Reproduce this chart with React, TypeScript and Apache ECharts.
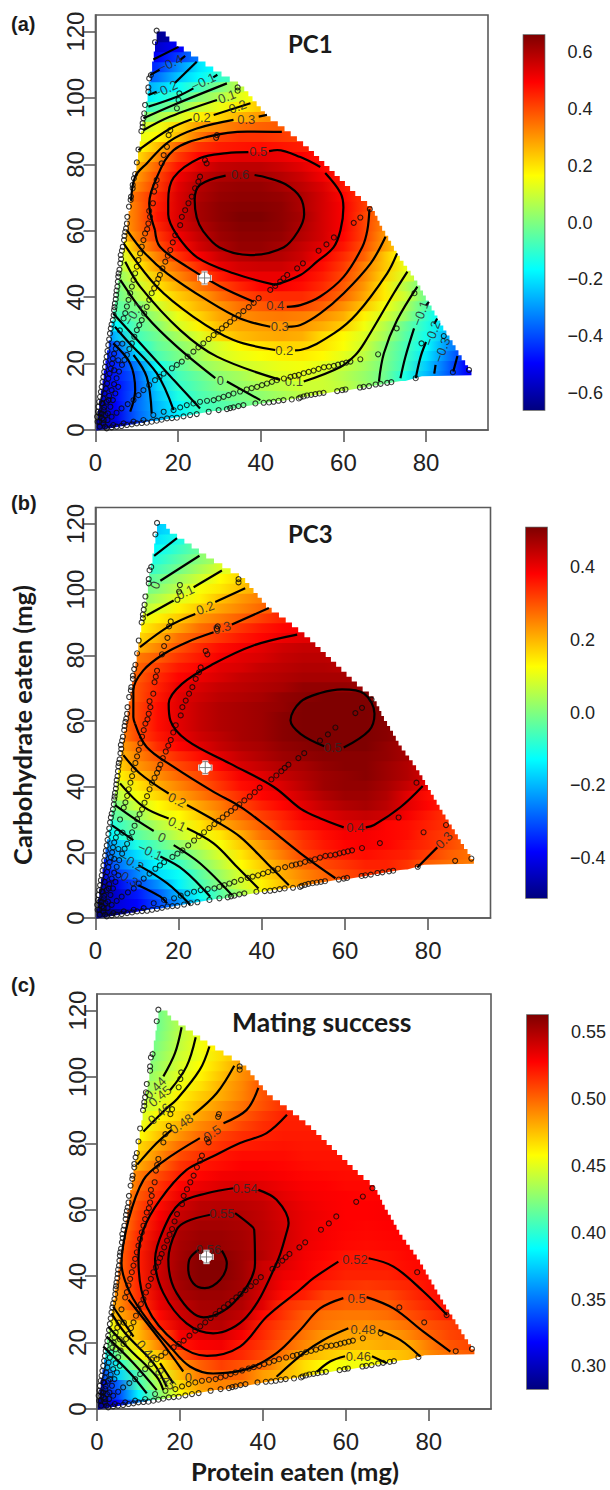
import React, { useEffect, useRef } from "react";
import * as echarts from "echarts";

const ROW_Y = [1.5,4.5,7.5,10.5,13.5,16.5,19.5,22.5,25.5,28.5,31.5,34.5,37.5,40.5,43.5,46.5,49.5,52.5,55.5,58.5,61.5,64.5,67.5,70.5,73.5,76.5,79.5,82.5,85.5,88.5,91.5,94.5,97.5,100.5,103.5,106.5,109.5,112.5,115.5,118.5];
const ROW_LO = [0.2,0.6,0.9,1.3,1.7,2,2.4,2.8,3.2,3.6,3.9,4.3,4.7,5.1,5.4,5.8,6.2,6.6,6.9,7.3,7.7,8,8.4,8.8,9.2,9.6,9.9,10.3,10.7,11,11.4,11.8,12.2,12.6,12.9,13.3,13.7,14.1,14.4,14.8];
const ROW_HI = [15,30,45,60,75,91,89.9,88.2,86.8,85.3,83.8,82.4,81,79.6,78.3,76.7,75,73.2,71.9,70.5,69,68,66.5,63.5,61,58.5,56,53.5,51,48,45,41.5,39.5,37.5,35.5,31.5,27.5,24,20.5,17];
const LOWER_EDGE = [[91,16.5],[79,16.2],[75,15],[60,12],[45,9],[30,6],[15,3],[0,0]];

const PC1_ROWS = [
[-62,-55,-44,-30],
[-65,-52,-37,-27,-18,-10,-5],
[-62,-50,-36,-26,-17,-9,-6,-3,0,2],
[-60,-48,-37,-24,-13,-7,-3,-1,2,5,8,10,10],
[-58,-48,-38,-22,-10,-5,0,3,6,8,10,10,8,4,-2,-7],
[-55,-46,-37,-20,-8,-3,2,5,9,12,13,10,7,3,-2,-13,-25,-37,-50,-55],
[-52,-45,-33,-15,-5,2,6,10,12,14,15,13,9,5,-1,-9,-23,-36,-50],
[-50,-42,-22,-7,-1,5,11,14,16,18,19,17,13,8,0,-8,-19,-33,-45],
[-50,-37,-14,-4,1,7,12,17,20,22,22,20,16,10,1,-7,-16,-30,-40],
[-45,-25,-8,-2,5,12,21,25,27,28,27,21,17,12,5,-5,-14,-26,-35],
[-30,-17,-5,1,11,18,25,28,29,30,30,27,23,15,7,-3,-12,-22],
[-15,-8,-3,5,14,22,28,31,33,34,33,31,27,18,11,3,-10,-20],
[-12,-5,0,10,20,26,30,35,38,40,40,37,31,24,15,6,-6,-14],
[-3,6,15,23,28,35,40,43,44,44,41,36,28,19,10,-2],
[-2,9,20,27,34,40,45,49,50,48,44,38,30,19,7,-3],
[1,12,24,32,39,46,51,52,52,50,46,40,32,22,12,5],
[4,18,29,36,44,52,55,56,56,53,48,42,33,24,14],
[7,22,33,43,50,56,59,60,59,56,50,44,37,24,14],
[12,28,39,48,55,60,63,63,61,57,53,47,39,29,20],
[20,33,42,51,57,62,64,64,63,59,55,49,41,30,20],
[25,35,45,54,59,63,65,65,64,60,55,50,41,32],
[26,35,47,54,61,64,66,66,64,61,55,50,41,33],
[26,35,46,54,61,64,65,65,64,60,55,50,42,35],
[28,36,45,54,60,63,64,64,63,60,55,49,42],
[26,32,42,53,59,62,63,63,61,58,54,47,40],
[25,29,40,51,57,60,61,61,59,56,51,46],
[20,26,37,47,53,57,58,58,56,53,49,44],
[20,32,42,49,52,53,53,52,50,47],
[15,25,37,43,46,47,48,47,46,44],
[13,17,25,34,41,43,43,42,41],
[8,14,22,29,32,35,37,38],
[-3,5,11,18,22,26,30,33],
[-12,-6,1,9,14,19,24],
[-22,-15,-9,1,6,13,18],
[-30,-24,-16,-8,0,8,12],
[-42,-35,-24,-17,-10,-5],
[-50,-43,-31,-20,-14],
[-55,-50,-42,-33],
[-60,-56,-50,-44],
[-65,-64,-58],
];

const PC3_ROWS = [
[-52,-50,-40,-28],
[-50,-42,-38,-31,-24,-15,-8],
[-50,-43,-36,-29,-20,-12,-4,4,12,18],
[-48,-40,-31,-24,-14,-6,1,8,14,19,24,27,30],
[-45,-33,-25,-16,-12,-4,3,9,16,21,25,28,31,33,33,32],
[-40,-28,-20,-13,-7,0,6,13,18,23,28,31,33,35,35,33,29,27,26,25],
[-35,-23,-16,-8,-3,3,9,15,21,26,31,34,36,37,36,35,32,29,27],
[-30,-19,-10,-4,2,7,12,18,23,28,33,36,38,39,38,36,34,31,28],
[-20,-11,-4,1,7,11,15,21,27,30,34,37,39,39,38,37,34,32,30],
[-18,-8,-1,5,10,15,21,25,29,34,37,39,41,41,38,37,35,33,31],
[-12,-3,2,10,13,18,24,28,32,35,39,41,43,44,43,39,36,33],
[-8,0,8,13,17,22,26,31,35,38,41,44,46,47,45,41,38,35],
[-2,5,12,17,22,26,30,34,38,40,43,46,48,48,46,41,37,35],
[8,15,21,25,29,33,37,39,42,45,48,49,49,47,44,40],
[13,19,24,28,31,35,39,41,44,46,48,49,50,48,46,42],
[16,23,27,31,34,38,42,44,46,47,49,50,50,48,46,42],
[19,25,30,34,37,41,44,46,48,49,50,50,50,49,47],
[21,27,34,38,41,44,46,47,49,50,51,51,51,49,47],
[23,31,36,40,43,45,47,48,50,51,52,52,51,50,48],
[25,31,37,41,44,46,47,48,50,51,52,52,52,50,48],
[25,31,37,41,44,46,47,48,50,51,52,53,52,50],
[25,31,37,41,44,46,47,48,49,51,52,52,52,50],
[25,30,36,41,43,45,46,47,49,50,51,51,51,49],
[26,30,35,40,42,44,45,46,47,49,49,49,48],
[26,29,34,38,40,42,44,45,46,47,47,47,46],
[24,28,32,36,38,41,42,44,45,46,46,45],
[22,26,29,33,36,39,41,42,44,45,45,44],
[20,25,30,34,37,39,41,43,44,44],
[16,21,27,30,33,36,38,40,41,41],
[13,18,22,27,30,33,36,38,39],
[9,14,18,23,26,29,32,35],
[4,9,14,18,22,25,28,31],
[0,5,10,14,19,23,26],
[-3,1,6,12,15,19,22],
[-7,-2,3,8,13,17,19],
[-11,-6,-1,4,9,13],
[-14,-9,-4,1,5],
[-17,-12,-7,-2],
[-20,-15,-10,-5],
[-22,-18,-14],
];

const MATING_ROWS = [
[285,318,355,400],
[290,335,385,425,457,480,487],
[305,345,405,438,468,485,492,492,486,478],
[320,375,410,448,477,495,502,500,485,478,468,455,448],
[340,395,432,462,487,502,511,505,499,482,467,458,455,455,458,464],
[370,420,455,475,503,519,522,517,508,496,480,473,468,468,472,477,490,498,503,505],
[395,442,467,492,522,529,531,521,513,502,491,483,479,478,482,481,494,505,509],
[415,449,477,500,530,537,539,530,517,506,496,486,483,483,483,491,501,509,513],
[430,465,478,520,536,546,548,538,519,510,501,495,491,489,491,497,506,511,516],
[450,480,498,526,541,550,551,545,526,514,503,497,495,495,498,506,513,520,523],
[460,487,512,533,545,552,553,549,536,516,510,506,502,502,502,511,518,525],
[470,490,516,536,551,555,555,551,539,525,520,510,508,508,508,515,522,527],
[470,494,518,540,553,560,558,553,542,530,524,519,515,513,515,518,524,527],
[497,519,542,555,561,561,554,543,533,529,523,519,519,519,523,525],
[497,520,541,554,561,562,554,542,537,530,525,521,521,522,525,527],
[498,520,542,553,561,560,554,548,539,531,527,523,522,523,526,528],
[496,518,540,552,557,556,553,547,541,533,529,526,525,526,527],
[490,517,536,551,555,555,552,547,541,534,530,527,526,527,528],
[487,513,532,549,553,553,551,546,540,534,530,528,527,528,529],
[487,511,529,543,549,551,549,545,539,534,531,528,528,529,529],
[483,508,525,540,547,548,547,544,538,533,530,528,528,529],
[478,503,518,532,541,543,543,541,535,531,529,528,527,528],
[470,498,514,527,533,537,538,536,532,529,528,526,526,527],
[470,494,508,520,527,531,532,531,529,527,526,525,525],
[465,481,498,514,522,525,528,528,527,525,524,524,524],
[460,472,490,507,515,522,525,525,525,523,523,523],
[455,468,483,498,508,515,520,522,523,522,522,522],
[457,475,488,500,510,516,519,521,521,521],
[450,468,480,491,499,509,516,520,520,520],
[445,460,471,483,493,503,512,519,520],
[440,451,465,477,487,497,506,515],
[430,447,461,472,481,492,505,513],
[425,440,454,466,480,491,506],
[420,436,450,461,475,489,500],
[415,431,447,458,471,485,495],
[410,428,444,454,467,480],
[408,425,441,455,467],
[405,422,440,453],
[405,420,438,452],
[400,420,438],
];

const DIET_POINTS = [
[14.8,120.3],[14.4,116.8],[13.4,106.9],[13,105.9],[12.8,103.2],[12.8,101.9],[12,97.9],[11.8,95.4],[11.6,93.9],[11.4,92.4],[11.4,91.3],[11.1,90],[10.4,84.5],[10,80.6],[9.6,77.1],[9.3,75.8],[9,73.8],[9,72.8],[8.6,70.3],[8.5,69.3],[8.1,67.3],[7.7,64.2],[7.6,62.2],[7.4,60.7],
[7.2,59.7],[6.9,57.2],[6.6,55.2],[6.1,52.7],[6,50.2],[5.5,46.2],[5.3,43.2],[5,40.7],[4.7,38.1],[4.5,36.1],[4.2,33.1],[3.7,30.6],[3.5,29.1],[3.1,25.6],[2.7,22.1],[2.3,19],[1.9,16],[1.5,13],[1.1,10],[0.7,7],[0.4,4],
[7,58.5],[6.4,54],[6.2,51.5],[5.8,48.3],[5.6,47.2],[5.4,44.7],[5.1,42],[4.9,39.4],[4.6,37],[4.4,34.6],[3.9,31.8],[3.3,27.3],[2.9,23.8],[2.5,20.5],[2.1,17.5],[1.7,14.5],[1.3,11.5],[0.9,8.5],[0.6,5.5],
[12,59.2],[11.2,55.2],[10.4,51.2],[9.6,47.2],[8.8,43.2],[8,39.2],[7.2,35.2],[6.8,33.6],[12.8,62.2],[13.2,64.2],[13.9,68.3],[14.2,71.8],[14.8,75.3],[16,80.3],[16.5,82.8],[17.3,85.3],[17.7,88.8],[18.1,90.3],[19.7,96.9],[20.1,99.4],[20.3,101.4],[34.4,103.2],[34.4,102.2],[29.4,88.8],[29.2,88],[26.9,80.3],[26.5,81.3],[25.3,76.3],[24.9,74.8],[24.1,72.8],[23.3,70.3],[22.5,68.3],[21.7,66.2],[20.9,64.2],[20.5,61.7],
[11.6,57.2],[10.8,53.2],[10,49.2],[9.2,45.2],[8.4,41.2],[7.6,37.2],[13,66],[12.5,60.5],[14.5,73.5],
[19.3,58.7],[18.1,54.2],[16.9,50.7],[15.6,46.7],[14.8,44.2],[13.6,41.2],[12.4,37.1],[11.2,33.1],[10,30.1],[8.8,26.1],[7.6,22.6],[6.4,19.6],[5.1,15.6],[3.9,12],[2.7,8.5],[1.5,5],
[18.7,56.5],[17.5,52.5],[16.2,48.7],[15.2,45.5],[14.2,42.7],[13,39.2],[11.8,35.1],[10.6,31.6],[9.4,28.1],[8.2,24.4],[7,21.1],[5.7,17.6],[4.5,13.8],[3.3,10.3],[2.1,6.8],
[48.8,48.7],[46.4,46.7],[44.7,44.7],[42.3,42.2],[39.5,39.7],[37.1,37],[34.6,34.6],[32.6,32.6],[30.6,30.6],[28.6,28.6],[26.1,26.1],[23.7,23.6],[20.9,20.6],[18.5,18.6],[16.5,17],[14.4,15],[11.6,12],[9.2,9],[6.3,6.5],[3.9,4],[1.9,2],[50.2,50.2],[54,54],[55.9,55.9],[57.7,58],[62.5,62.4],[64.1,64],[66.4,66.5],
[45.5,45.7],[43.5,43.4],[38.3,38.3],[35.8,35.8],[33.6,33.6],[31.6,31.6],[29.6,29.6],[27.4,27.4],[24.9,24.9],[22.3,22.1],[19.7,19.6],[15.5,16],[13,13.5],[10.4,10.5],[7.8,7.8],[5.1,5.2],[2.9,3],[1,1],
[64.1,21.3],[61.7,20.6],[59.7,20],[57.7,19.3],[55.3,18.9],[52.8,17.9],[50.4,17.1],[49.2,16.6],[47.2,16],[43.9,15],[41.5,14],[39.1,13],[36.6,12.2],[33.4,11],[31,10],[28.6,9],[25.3,8.5],[22.1,7.5],[18.9,6],[16.5,5.5],[14,4.5],[11.6,3],[9.2,2.5],[6.8,2],[4.3,1.5],[2.3,1],[68.4,22.8],[72.9,30.6],[77.2,41.2],[84.3,28.3],[78.9,26.1],
[60.7,20.3],[58.7,19.7],[56.5,19.1],[54,18.4],[51.6,17.5],[48.2,16.3],[45.6,15.5],[42.7,14.5],[40.3,13.5],[37.8,12.6],[35,11.6],[32.2,10.5],[29.8,9.5],[27,8.8],[23.7,8],[20.5,6.8],
[90.4,18.1],[86.5,17.4],[77.5,15.6],[71.6,14.4],[70.6,14.2],[69,13.9],[67.8,13.7],[66.2,13.2],[64.9,13],[64,12.8],[60.5,12.2],[58.5,11.7],[55.2,11.2],[53.2,10.8],[51.2,10.4],[49.6,9.8],[49.2,9.5],[45.5,9],[43.1,8.5],[40.7,8.2],[38.7,8],[35.8,7.5],[33.4,6.8],[31.8,6.3],[29.8,6],[27.4,5.5],[24.5,4.8],[22.9,4.5],[19.7,3.7],[17.3,3.5],[14.8,2.8],[12.4,2.2],[10,2],[7.6,1.5],[5.1,1],[2.7,0.5],
[59.7,12],[54.2,11],[52.2,10.6],[50.4,10.1],[47.5,9.2],[44.3,8.8],[42,8.3],[34.6,7.2],[32.6,6.6],[21.3,4.1],[18.5,3.6],[16,3.1],[13.6,2.5],[11.2,2.1],[8.8,1.7],[6.3,1.2],[3.9,0.8],
[5.9,30],[5.2,26],[4.5,23],[4,20],[3.4,17],[2.8,14],[2.2,11],[1.7,8],[1,5],[0.5,2.5],[2,3],[1,4],[3,5],[2,6],[1.5,8],[4.5,18],[5.5,21],[6.5,26],[3.2,9],[4.8,11],
[4.9,24.5],[4.2,21.5],[3.7,18.5],[3.1,15.5],[2.5,12.5],[1.9,9.5],[2.4,4.5],[0.9,2.5],[1.6,3.5],[3.6,7],[4.2,9],[5.5,13]
];
const OPTIMUM_POINT = [26.4, 45.8];

const PC1_CONTOURS = [
[[14,111.6],[20.1,115.4]],
[[13.2,106.9],[15.5,108.5]],[[20.5,111.5],[21.7,112.7]],
[[12.8,100.9],[14.8,101.9]],[[19.2,104.5],[24.5,110.9]],
[[12.8,97.4],[19.7,100.4],[23.7,102.9]],[[28.5,106.2],[29.5,107]],
[[11.6,93.9],[18.9,97.9],[31.8,104.4]],
[[11.6,90.3],[18.1,94.4],[29.4,99.4]],
[[10.4,84.3],[18.1,90.8],[23.3,93.6]],[[28.6,94.9],[37.5,98.4]],
[[8.6,69],[9.6,76.3],[12.4,80.3],[17.7,86.8],[24.5,90.8],[33.4,93.4]],[[39.5,94.4],[41.5,94.9]],
[[7.6,60.2],[11.6,53.7],[17.3,47.2],[27,39.1],[35,33.6],[42.3,31.1]],[[46.5,31.1],[49.6,31.6],[54.4,35.1],[60.1,41.2],[66.6,50.2],[70.2,58.2]],
[[14.4,60.2],[15.6,55.2],[22.1,49.2],[30.2,43.2],[38.3,38.6]],[[46.3,37.1],[49.6,37.6],[54.4,40.2],[60.1,46.2],[64.6,55.2],[65.8,60.2],[66.3,66.5]],
[[45.1,89.8],[36.7,89.9],[27,88.3],[18.9,84.3],[14.9,76.3],[13,68.3],[13.3,65],[14.4,60.2]],
[[19.7,58.7],[17.6,65],[17.6,69],[18.9,76],[25.3,81.9],[31.8,83.4],[37,83.7]],[[42,84],[44,84.3],[49.6,82.2],[54.4,79.2]],[[55.6,77.4],[59.3,71.4],[60,67],[59.3,60.2],[57.6,55],[53.6,50.7],[49.6,46.7],[43.5,43.7]],[[43.5,43.7],[33.4,47.2],[24.6,52],[19.7,58.7]],
[[31.5,76.6],[25.3,73.8],[24,69.3],[24.5,64],[26,60],[30,55],[37.5,52.7],[45.5,55],[49,59.8],[50.5,65],[49.6,70],[46,74],[41.5,76],[38.5,76.8]],
[[6.8,56.2],[14.8,43.2],[23.7,34.1],[33.4,27.1],[43.5,24.1]],[[48.3,24],[49.6,24.1],[57.7,29.1],[63.3,35.1],[70.6,47.2],[73,53.2]],
[[7.2,50.7],[10.8,43.2],[20.5,30.1],[29.4,22.1],[44.7,15.1]],[[50.4,14.6],[59.3,19],[62.9,22.6],[65,26.1],[72.2,41.2],[75.5,47.7]],
[[6,45.2],[12.4,34.1],[19.7,25.1],[29,15.6]],[[31.8,14.6],[39.9,9]],
[[77.9,43.2],[73,33.1],[69.8,23.1],[68.6,14.6]],
[[80.7,38.6],[80,37.5]],[[77.1,30.6],[75,22],[73.8,15.6]],
[[82.7,33.6],[82,32]],[[80,26.5],[78.7,22.1],[77.5,15.6]],
[[82.3,19.6],[82,17]],
[[87.6,22.3],[86.6,17.6]],
[[4.3,35.1],[11.6,25.1],[18.9,15.1],[25.3,6.5]],
[[4.7,31.1],[7.5,27.1],[14.8,17.1],[18.9,6]],
[[9.2,22.6],[12.4,16],[13.6,5]],
[[4.3,26.1],[8.4,20],[9.6,12],[8.4,5.5]],
];
const PC1_LABELS = [
[18.1,110.4,"−0.4",25],[16.9,102.6,"−0.2",25],[26.1,104.9,"−0.1",25],[31.8,100.4,"0.1",20],[34.4,97.4,"0.2",20],[25.7,94.2,"0.2",0],[36.5,93.6,"0.3",0],[39.4,83.8,"0.5",0],[35,76.9,"0.6",0],[43.5,37.4,"0.4",0],[44.6,31.1,"0.3",0],[45.7,23.9,"0.2",0],[48,14.5,"0.1",0],[30.2,14.9,"0",0],[9.2,35.1,"−0.1",60],[78.7,35.1,"−0.1",70],[81.5,29.1,"−0.2",70],[83.9,24.1,"−0.3",70],
];

const PC3_CONTOURS = [
[[14.1,110.3],[19.6,115.7]],
[[15.6,102.7],[25,110.3]],
[[12.3,92.1],[18.8,96.7]],[[23.6,100.7],[30.4,105.8]],
[[10.7,82.5],[18,89.1],[24,92.6]],[[28.8,96.2],[36,100.4]],
[[9.5,59.2],[9.1,61.2],[9.1,69.3],[11.5,75.4],[16.4,80.4],[22,84],[28.4,87]],[[32.8,89.4],[41.7,94.4]],
[[9.5,59.2],[12.3,52.1],[18.8,46],[28.4,38.4],[34.8,33.9],[41.3,27.8],[49.3,19.7],[57.7,12.1]],
[[48.5,86.3],[38,83],[28.4,77.4],[20.8,71.3],[17.6,65.3],[18,60.2],[22,54.1],[32.4,47],[42.9,39.9],[49.3,33.3],[54.1,30.3],[59.7,27.6]],[[65,27.6],[67,28.3],[73.4,33.8],[78.7,40.2]],
[[55,52.3],[49.3,56.1],[46.9,60.2],[49.3,65.8],[54.1,68.5],[59.3,69.6],[64.6,68.3],[67.1,62.2],[65.8,57.1],[59.7,51.9]],
[[77.4,15.4],[82.2,21.5]],
[[6.7,49.6],[10.7,44],[17.6,37.9]],[[22,34.4],[29.2,29.3],[34.8,24.7],[41.3,16.6],[46.5,10]],
[[5.9,41],[11.5,33.9],[17.6,30.3]],[[22,27.3],[28.4,22.7],[34,15.6],[39.2,9]],
[[4.7,34.4],[9.9,29.8],[14,26.5]],[[18.8,22.2],[25.2,16.6],[32.8,7]],
[[3.9,28.3],[9.1,23.7]],[[15.6,18.7],[21.2,14.6],[27.6,6.5]],
[[10.3,16.1],[17.2,10.6],[22.8,4]],
[[10.3,10],[15.6,6.5],[17.2,4.5]],
];
const PC3_LABELS = [
[14.4,101.4,"0",70],[21.6,99.2,"0.1",25],[26.4,94.4,"0.2",20],[30.4,88.4,"0.3",15],[57.1,51.9,"0.5",0],[62.5,27.6,"0.4",0],[83.8,23.7,"0.3",45],[19.6,35.9,"0.2",-25],[19.6,28.6,"0.1",-25],[16,24.5,"0",-25],[13.1,20.2,"−0.1",-25],[8.7,17.1,"−0.2",-30],[7.4,12.4,"−0.3",-30],
];

const MATING_CONTOURS = [
[[16,100.2],[18.8,107.2],[20.4,115]],
[[17.6,96],[21.6,103.2],[23.8,112]],
[[11.2,83.6],[16.8,90.6],[19.2,93.2],[24.8,102.2],[27.1,109.2]],
[[9.7,73.6],[14.4,80.1],[18,84.1]],[[23.2,88.6],[28.9,95.2],[33.1,103.4]],
[[7.6,57],[11.2,69],[16,74.6],[24.8,81.6]],[[30.5,86.1],[36.1,90.1],[38.9,96.7]],
[[7.6,57],[5.9,43.9],[8,34.9],[12.8,25.8],[17.6,18.8],[22.4,12.8],[28,10.7],[36.1,12],[43.3,16.8],[49,23.8],[53.8,30.3],[59.4,33.4]],[[65,33.7],[71.5,30.3],[78.7,23.3],[85.2,17.3]],
[[45.8,88.6],[40.9,83.1],[34.5,80.1],[28,76.1],[21.6,72],[15.2,63],[11.2,54],[10,45],[12,30.8],[19.2,19.8],[26.5,16],[34.5,18.8],[40.9,27.8],[49,36],[52.2,39.4],[58.2,44.4]],[[65.5,45.4],[71.5,42.9],[78.7,35.4],[84.4,28.3]],
[[32.9,66.5],[26.5,65],[20,62],[16,54],[14,45],[16,34.9],[21.6,25.8],[28,22.8],[36.1,27.8],[43.3,43.9],[45.9,54],[46.2,56],[43.3,63],[38.9,66]],
[[27.3,58.5],[21.6,56.5],[19.2,54],[17.2,45],[19.2,34.9],[25.7,27.6],[32.9,31.9],[38.1,43.9],[37.9,54],[36.9,55.5],[33.3,59]],
[[24.5,48],[22.4,45.4],[22,42.4],[23.2,37.9],[26,36.4],[29.7,38.9],[31.3,43.9],[30.1,47.7]],
[[7.6,32.9],[15.2,20.8],[20.8,11.3]],
[[43.3,9.7],[49.8,16.8],[54.6,20.8],[60.6,24.3]],[[67.9,23.8],[73.1,20.8],[77.9,15.8]],
[[53,11.2],[56.2,14.3],[59.8,15.9]],[[66.3,15.9],[69.9,13.8]],
[[3.9,30.8],[8.8,21.8]],[[15.2,13.8],[18.4,7.7]],
[[3.5,28.8],[6.8,22.8],[13.6,13.8],[16.8,6.7]],
[[2.7,24.8],[8,17.8],[14.4,9.7],[16,5.7]],
[[2.3,21.8],[8.8,13.8],[14.4,5.7]],
[[1.5,18.8],[8,10.8],[12,4.7]],
];
const MATING_LABELS = [
[14,96.7,"0.44",45],[15.2,94.2,"0.45",40],[15,88.9,"0.46",40],[20.4,85.9,"0.48",35],[27.8,83.1,"0.5",35],[35.7,66.5,"0.54",0],[30.1,59,"0.55",0],[26.9,48,"0.56",0],[62.2,44.9,"0.52",0],[62.6,33.4,"0.5",0],[64.2,24,"0.48",0],[63,15.8,"0.46",0],[12,17.3,"0.46",-50],[22,9.5,"0",0],[16.5,9.2,"0.45",-50],
];

const X_TICKS = [0,20,40,60,80];
const Y_TICKS = [0,20,40,60,80,100,120];
const PC1_BAR_TICKS = [-0.6,-0.4,-0.2,0,0.2,0.4,0.6];
const PC3_BAR_TICKS = [-0.4,-0.2,0,0.2,0.4];
const MATING_BAR_TICKS = [0.3,0.35,0.4,0.45,0.5,0.55];

const JET: [number, number[]][] = [[0,[0,0,127]],[0.125,[0,0,255]],[0.375,[0,255,255]],[0.625,[255,255,0]],[0.875,[255,0,0]],[1,[127,0,0]]];
function jet(t: number) {
  const v = Math.max(0, Math.min(1, t));
  for (let i = 1; i < JET.length; i++) {
    if (v <= JET[i][0]) {
      const f = (v - JET[i-1][0]) / (JET[i][0] - JET[i-1][0]);
      const c = JET[i-1][1].map((a, j) => Math.round(a + (JET[i][1][j] - a) * f));
      return `rgb(${c[0]},${c[1]},${c[2]})`;
    }
  }
  return "rgb(127,0,0)";
}

const AXIS = "#5a5a5a";
const INK = "#222";

const PANELS = [
  { rows: PC1_ROWS, unit: 0.01, min: -0.66, max: 0.66, contours: PC1_CONTOURS, labels: PC1_LABELS, ticks: PC1_BAR_TICKS, dec: 1,
    grid: { left: 95.5, top: 15, width: 392.5, height: 415 }, bar: { left: 523.5, top: 35, width: 21, height: 375 } },
  { rows: PC3_ROWS, unit: 0.01, min: -0.51, max: 0.51, contours: PC3_CONTOURS, labels: PC3_LABELS, ticks: PC3_BAR_TICKS, dec: 1,
    grid: { left: 95.5, top: 507.5, width: 395, height: 410.5 }, bar: { left: 526, top: 527.5, width: 21, height: 370.5 } },
  { rows: MATING_ROWS, unit: 0.001, min: 0.283, max: 0.563, contours: MATING_CONTOURS, labels: MATING_LABELS, ticks: MATING_BAR_TICKS, dec: 2,
    grid: { left: 97, top: 994, width: 394, height: 415 }, bar: { left: 527, top: 1015, width: 21, height: 374 } },
];

function rowOutline(i: number) {
  const y = ROW_Y[i], yb = y - 1.5, yt = y + 1.5, lo = ROW_LO[i], hi = ROW_HI[i];
  const pts: number[][] = [[lo, yt]];
  if (yb >= 18) {
    const up = i + 1 < ROW_HI.length ? hi - (hi - ROW_HI[i + 1]) / 4 : hi;
    const down = hi + (ROW_HI[i - 1] - hi) / 4;
    pts.push([up, yt], [up, y], [Math.min(down, 91), y], [Math.min(down, 91), yb]);
  } else {
    pts.push([hi, yt]);
    LOWER_EDGE.forEach((e) => { if (e[1] >= yb && e[1] <= yt && e[0] < hi + 0.01) pts.push(e); });
  }
  pts.push([lo, yb]);
  return pts;
}

function buildOption() {
  const grid: any[] = [], xAxis: any[] = [], yAxis: any[] = [], series: any[] = [];
  const border = { show: true, borderColor: AXIS, borderWidth: 1.6, backgroundColor: "transparent" };
  PANELS.forEach((p, pi) => {
    const gi = pi * 2;
    grid.push({ ...p.grid, ...border });
    xAxis.push({ gridIndex: gi, type: "value", min: 0, max: 95, splitLine: { show: false },
      axisLine: { show: true, onZero: false, lineStyle: { color: AXIS, width: 1.6 } },
      axisTick: { show: true, length: 12, customValues: X_TICKS, lineStyle: { color: AXIS, width: 1.6 } },
      axisLabel: { customValues: X_TICKS, fontFamily: "Liberation Sans", fontSize: 24, color: INK, margin: 20 } });
    yAxis.push({ gridIndex: gi, type: "value", min: 0, max: 125, splitLine: { show: false },
      axisLine: { show: true, onZero: false, lineStyle: { color: AXIS, width: 1.6 } },
      axisTick: { show: true, length: 12, customValues: Y_TICKS, lineStyle: { color: AXIS, width: 1.6 } },
      axisLabel: { customValues: Y_TICKS, fontFamily: "Liberation Sans", fontSize: 24, color: INK, rotate: 90, margin: 20, align: "center", verticalAlign: "middle" } });

    const color = (raw: number) => jet((raw * p.unit - p.min) / (p.max - p.min));
    series.push({
      type: "custom", xAxisIndex: gi, yAxisIndex: gi, z: 1, silent: true, clip: false,
      data: ROW_Y.map((y, i) => [ROW_LO[i], y - 1.5, ROW_HI[i], y + 1.5]),
      renderItem: (params: any, api: any) => {
        const i = params.dataIndex;
        const lo = ROW_LO[i], hi = ROW_HI[i], vals = p.rows[i];
        const k0 = Math.floor(lo / 5);
        const at = (x: number) => {
          const u = Math.max(0, Math.min(vals.length - 1, x / 5 - k0));
          const a = Math.floor(u), b = Math.min(vals.length - 1, a + 1);
          return vals[a] + (vals[b] - vals[a]) * (u - a);
        };
        const stops = [{ offset: 0, color: color(at(lo)) }];
        vals.forEach((v: number, j: number) => {
          const off = ((k0 + j) * 5 - lo) / (hi - lo);
          if (off > 0 && off < 1) stops.push({ offset: off, color: color(v) });
        });
        stops.push({ offset: 1, color: color(at(hi)) });
        const yb = ROW_Y[i] - 1.5;
        const points = rowOutline(i).map((q) => {
          const c = api.coord(q);
          return [c[0], q[1] === yb ? c[1] + 0.8 : c[1]];
        });
        const x0 = api.coord([lo, 0])[0], x1 = api.coord([hi, 0])[0];
        return { type: "polygon", shape: { points },
          style: { fill: new echarts.graphic.LinearGradient(x0, 0, x1, 0, stops, true) } };
      },
    });
    p.contours.forEach((pts: number[][]) => {
      series.push({ type: "line", xAxisIndex: gi, yAxisIndex: gi, z: 2, silent: true, data: pts, showSymbol: false, symbol: "none", smooth: 0.35,
        lineStyle: { color: "#000", width: 2.2 } });
    });
    series.push({
      type: "custom", xAxisIndex: gi, yAxisIndex: gi, z: 3, silent: true,
      data: p.labels.map((l: any[]) => [l[0], l[1]]),
      renderItem: (params: any, api: any) => {
        const l: any = p.labels[params.dataIndex];
        const c = api.coord([l[0], l[1]]);
        return { type: "text", x: c[0], y: c[1], rotation: (l[3] * Math.PI) / 180,
          style: { text: l[2], fontFamily: "Liberation Sans", fontSize: 13, fill: "#2a2a2a", align: "center", verticalAlign: "middle", opacity: 0.85 } };
      },
    });
    series.push({ type: "scatter", xAxisIndex: gi, yAxisIndex: gi, z: 4, silent: true, data: DIET_POINTS, symbol: "circle", symbolSize: 5,
      itemStyle: { color: "rgba(0,0,0,0)", borderColor: "#0a0a0a", borderWidth: 1.1 } });
    series.push({
      type: "custom", xAxisIndex: gi, yAxisIndex: gi, z: 5, silent: true, data: [OPTIMUM_POINT],
      renderItem: (_: any, api: any) => {
        const c = api.coord(OPTIMUM_POINT);
        const seg = (x1: number, y1: number, x2: number, y2: number, stroke: string, w: number) => ({
          type: "line", shape: { x1: c[0] + x1, y1: c[1] + y1, x2: c[0] + x2, y2: c[1] + y2 }, style: { stroke, lineWidth: w } });
        const cross = (stroke: string, w: number) => [seg(-6, 0, 6, 0, stroke, w), seg(0, -6, 0, 6, stroke, w), seg(-6, -3, -6, 3, stroke, w), seg(6, -3, 6, 3, stroke, w), seg(-3, -6, 3, -6, stroke, w), seg(-3, 6, 3, 6, stroke, w)];
        return { type: "group", children: [
          { type: "circle", shape: { cx: c[0], cy: c[1], r: 5.5 }, style: { fill: "#fff" } },
          ...cross("#fff", 2.4), ...cross("#777", 0.9),
        ] };
      },
    });

    grid.push({ ...p.bar, ...border });
    xAxis.push({ gridIndex: gi + 1, type: "value", min: 0, max: 1, show: false });
    yAxis.push({ gridIndex: gi + 1, type: "value", position: "right", min: p.min, max: p.max, splitLine: { show: false },
      axisLine: { show: false },
      axisTick: { show: true, length: 12, customValues: p.ticks, lineStyle: { color: AXIS, width: 1.6 } },
      axisLabel: { customValues: p.ticks, fontFamily: "Liberation Sans", fontSize: 18, color: INK, margin: 23, align: "left",
        formatter: (v: number) => v.toFixed(p.dec).replace("-", "−") } });
    series.push({
      type: "custom", xAxisIndex: gi + 1, yAxisIndex: gi + 1, z: 1, silent: true, data: [[0, p.min, 1, p.max]],
      renderItem: (_: any, api: any) => {
        const a = api.coord([0, p.max]), b = api.coord([1, p.min]);
        return { type: "rect", shape: { x: a[0], y: a[1], width: b[0] - a[0], height: b[1] - a[1] },
          style: { fill: new echarts.graphic.LinearGradient(0, 1, 0, 0, JET.map(([o, c]) => ({ offset: o, color: `rgb(${c[0]},${c[1]},${c[2]})` }))) } };
      },
    });
  });

  const text = (x: number, y: number, t: string, font: string, size: number, extra: any = {}, align = "left") => ({
    type: "text", x, y, silent: true, ...extra,
    style: { text: t, fontFamily: font, fontSize: size, fontWeight: 700, fill: "#1a1a1a", align, verticalAlign: "middle" },
  });
  const graphic = [
    text(11, 24, "(a)", "Liberation Sans", 20),
    text(11, 503, "(b)", "Liberation Sans", 20),
    text(11, 985, "(c)", "Liberation Sans", 20),
    text(288, 43, "PC1", "Lato", 24),
    text(288, 533, "PC3", "Lato", 24),
    text(232, 1022, "Mating success", "Lato", 26.5),
    text(22, 725, "Carbohydrate eaten (mg)", "Lato", 25.5, { rotation: Math.PI / 2 }, "center"),
    text(295, 1471, "Protein eaten (mg)", "Lato", 25.5, {}, "center"),
  ];
  return { animation: false, backgroundColor: "#fff", grid, xAxis, yAxis, series, graphic };
}

export default function App() {
  const ref = useRef<HTMLDivElement>(null);
  useEffect(() => {
    document.body.style.margin = "0";
    const chart = echarts.init(ref.current!, undefined, { renderer: "svg" });
    chart.setOption(buildOption() as any);
    return () => chart.dispose();
  }, []);
  return <div ref={ref} style={{ width: 610, height: 1490 }} />;
}
